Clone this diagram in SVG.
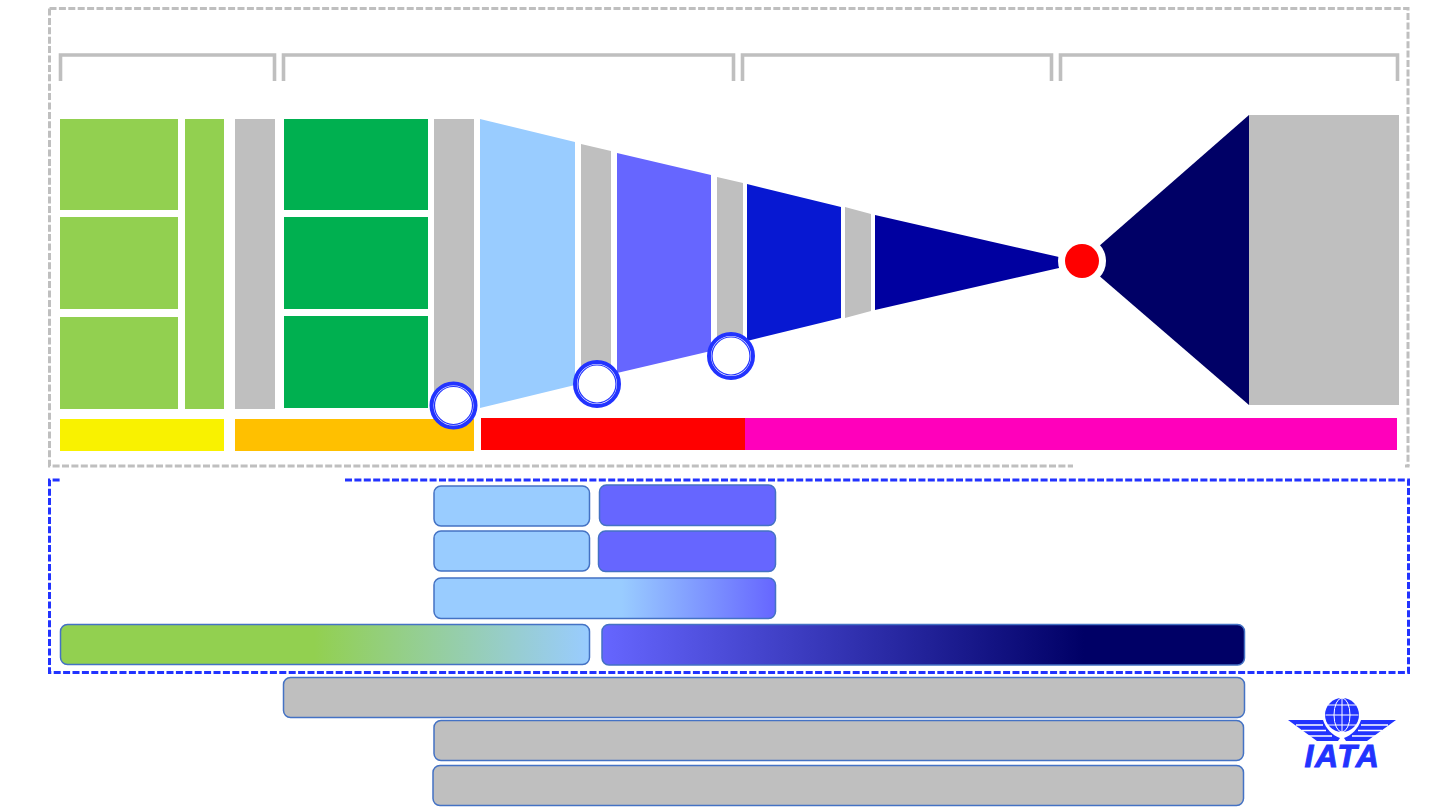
<svg xmlns="http://www.w3.org/2000/svg" width="1440" height="810" viewBox="0 0 1440 810">
<style>
.gdash{fill:none;stroke:#bfbfbf;stroke-width:3;stroke-dasharray:7 2.4}
.bdash{fill:none;stroke:#2233ff;stroke-width:3;stroke-dasharray:7 2.4}
.br{fill:none;stroke:#bfbfbf;stroke-width:3.6}
.lg{fill:#92d050}.dg{fill:#00b050}.gr{fill:#bfbfbf}.lb{fill:#99ccff}.pw{fill:#6666ff}
.pill{stroke:#4472c4;stroke-width:1.5}
.ring{fill:#fff;stroke:#2233ff;stroke-width:4}
.ringi{fill:none;stroke:#2233ff;stroke-width:1.200}
.logo{fill:#2233ff}
</style>
<defs>
<linearGradient id="g1" x1="0" x2="1" y1="0" y2="0"><stop offset="0.48" stop-color="#92d050"/><stop offset="1" stop-color="#99ccff"/></linearGradient>
<linearGradient id="g2" x1="0" x2="1" y1="0" y2="0"><stop offset="0.55" stop-color="#99ccff"/><stop offset="1" stop-color="#6666ff"/></linearGradient>
<linearGradient id="g3" x1="0" x2="1" y1="0" y2="0"><stop offset="0" stop-color="#6666ff"/><stop offset="0.75" stop-color="#000066"/><stop offset="1" stop-color="#000066"/></linearGradient>
</defs>
<rect width="1440" height="810" fill="#fff"/>
<g id="frames">
<path class="gdash" d="M49.500 8.500H1408V466"/>
<path class="gdash" d="M49.500 8.500V466H1073"/>
<path d="M1405 466H1409.500" stroke="#bfbfbf" stroke-width="3" fill="none"/>
<path class="bdash" d="M345 480H1408.500V672.500H49.500V480H62"/>
</g>
<g id="brackets">
<path class="br" d="M60.500 81V55H274.500V81"/>
<path class="br" d="M283.500 81V55H733.500V81"/>
<path class="br" d="M742.500 81V55H1051.500V81"/>
<path class="br" d="M1060.500 81V55H1397.500V81"/>
</g>
<g id="stage-a">
<rect class="lg" x="60" y="119" width="118" height="91"/>
<rect class="lg" x="60" y="217" width="118" height="92"/>
<rect class="lg" x="60" y="317" width="118" height="92"/>
<rect class="lg" x="185" y="119" width="39" height="290"/>
<rect class="gr" x="235" y="119" width="40" height="290"/>
</g>
<g id="stage-b">
<rect class="dg" x="284" y="119" width="144" height="91"/>
<rect class="dg" x="284" y="217" width="144" height="92"/>
<rect class="dg" x="284" y="316" width="144" height="92"/>
<rect class="gr" x="434" y="119" width="40" height="290"/>
</g>
<g id="funnel">
<polygon class="lb" points="480,119 575,142 575,385 480,408"/>
<polygon class="gr" points="581,144 611,151 611,368 581,375"/>
<polygon class="pw" points="617,153 711,175 711,351 617,373"/>
<polygon class="gr" points="717,177 743,183 743,345 717,351"/>
<polygon fill="#0718d2" points="747,184 841,207 841,318 747,341"/>
<polygon class="gr" points="845,207 871,214 871,311 845,318"/>
<polygon fill="#0000a0" points="875,215 1059,257 1059,268 875,310"/>
</g>
<g id="output">
<polygon fill="#000066" points="1082,261 1249,115 1249,405"/>
<rect class="gr" x="1249" y="115" width="150" height="290"/>
<circle cx="1082" cy="261" r="24" fill="#fff"/>
<circle cx="1082" cy="261" r="17" fill="#ff0000"/>
</g>
<g id="bars">
<rect fill="#f9f200" x="60" y="419" width="164" height="32"/>
<rect fill="#ffc000" x="235" y="419" width="239" height="32"/>
<rect fill="#ff0000" x="481" y="418" width="264" height="32"/>
<rect fill="#ff00bb" x="745" y="418" width="652" height="32"/>
</g>
<g id="markers">
<g id="m1"><circle class="ring" cx="453.500" cy="405.500" r="22"/><circle class="ringi" cx="453.500" cy="405.500" r="19"/></g>
<g id="m2"><circle class="ring" cx="597" cy="384" r="22"/><circle class="ringi" cx="597" cy="384" r="19"/></g>
<g id="m3"><circle class="ring" cx="731" cy="356" r="22"/><circle class="ringi" cx="731" cy="356" r="19"/></g>
</g>
<g id="pills">
<rect class="pill lb" x="434" y="486" width="155.500" height="40" rx="7"/>
<rect class="pill pw" x="599.500" y="485" width="176" height="40.500" rx="7"/>
<rect class="pill lb" x="434" y="531" width="155.500" height="40" rx="7"/>
<rect class="pill pw" x="598.500" y="531" width="177" height="40.500" rx="7"/>
<rect class="pill" fill="url(#g2)" x="434" y="578" width="341.500" height="40.500" rx="7"/>
<rect class="pill" fill="url(#g1)" x="60.500" y="624.500" width="529" height="40" rx="7"/>
<rect class="pill" fill="url(#g3)" x="602" y="624.500" width="642.500" height="40.500" rx="7"/>
<rect class="pill gr" x="283.500" y="677.500" width="961" height="40" rx="7"/>
<rect class="pill gr" x="434" y="720.500" width="809.500" height="40" rx="7"/>
<rect class="pill gr" x="433" y="765.500" width="810.500" height="40" rx="7"/>
</g>
<g id="logo">
<circle class="logo" cx="1342" cy="715" r="17"/>
<g fill="none" stroke="#fff" stroke-width="1">
<ellipse cx="1342" cy="715" rx="8" ry="17"/>
<path d="M1342 698V732M1325.500 715H1358.500M1328 705H1356M1328 725H1356"/>
</g>
<path id="wing-l" class="logo" d="M1288 720H1323C1326 729 1332 735 1340 738L1338 741H1317Z"/>
<path id="wing-r" class="logo" d="M1396 720H1361C1358 729 1352 735 1344 738L1346 741H1367Z"/>
<g stroke="#fff" stroke-width="1.300" fill="none">
<path d="M1296 725H1323M1302 730.500H1326M1309 736H1332"/>
<path d="M1388 725H1361M1382 730.500H1358M1375 736H1352"/>
</g>
<text x="1342.500" y="766.500" text-anchor="middle" font-family="'Liberation Sans',Arial,sans-serif" font-size="32" font-weight="700" font-style="italic" letter-spacing="1.500" fill="#2233ff" stroke="#2233ff" stroke-width="0.9">IATA</text>
</g>
</svg>
